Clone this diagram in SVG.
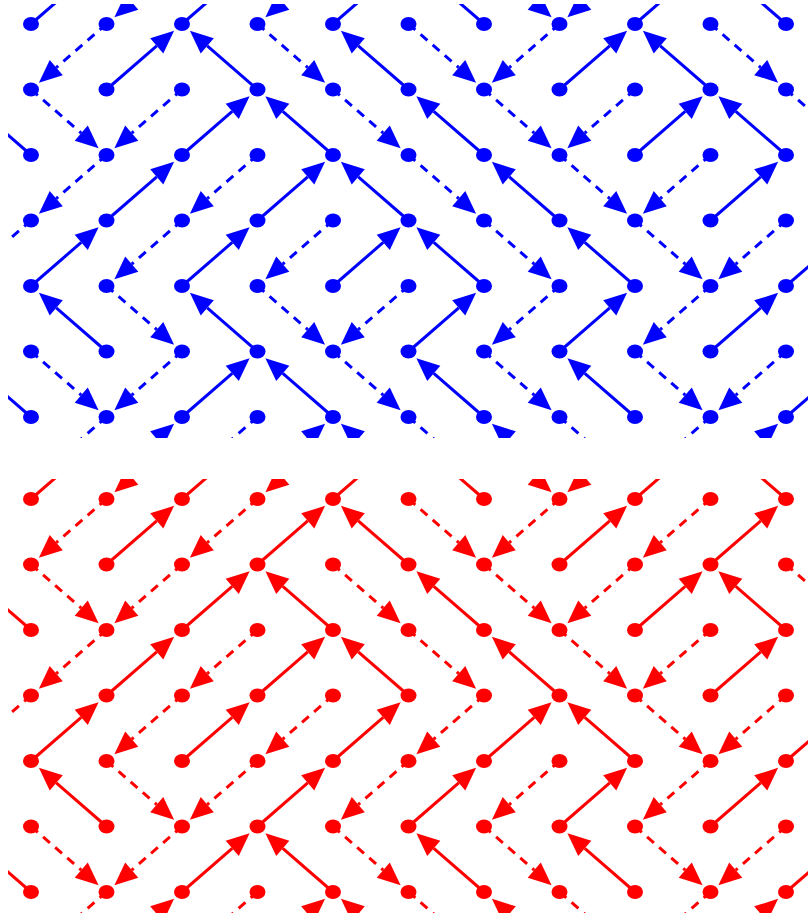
<svg xmlns="http://www.w3.org/2000/svg" width="808" height="920" viewBox="0 0 808 920">
<style>
.blue{color:#0000ff}
.red{color:#ff0000}
</style>
<defs>
<clipPath id="panel"><rect x="8" y="4" width="800" height="434"/></clipPath>
<g id="UR" transform="rotate(-40.94)"><line x1="0" y1="0" x2="66.5" y2="0" stroke="currentColor" stroke-width="3"/><path d="M89.5,0L66.5,-10L66.5,10Z" fill="currentColor"/></g>
<g id="UL" transform="rotate(-139.06)"><line x1="0" y1="0" x2="66.5" y2="0" stroke="currentColor" stroke-width="3"/><path d="M89.5,0L66.5,-10L66.5,10Z" fill="currentColor"/></g>
<g id="DR" transform="rotate(40.94)"><line x1="0" y1="0" x2="66.5" y2="0" stroke="currentColor" stroke-width="3" stroke-dasharray="9 7"/><path d="M89.5,0L66.5,-10L66.5,10Z" fill="currentColor"/></g>
<g id="DL" transform="rotate(139.06)"><line x1="0" y1="0" x2="66.5" y2="0" stroke="currentColor" stroke-width="3" stroke-dasharray="9 7"/><path d="M89.5,0L66.5,-10L66.5,10Z" fill="currentColor"/></g>
</defs>

<g id="panel-blue" class="blue">
<g id="connectors-blue" clip-path="url(#panel)">
<use href="#UR" x="31" y="24"/><use href="#DL" x="106.5" y="24"/><use href="#UR" x="182" y="24"/><use href="#DR" x="257.5" y="24"/><use href="#UR" x="333" y="24"/><use href="#DR" x="408.5" y="24"/><use href="#UL" x="484" y="24"/><use href="#DL" x="559.5" y="24"/><use href="#UR" x="635" y="24"/><use href="#DR" x="710.5" y="24"/><use href="#UL" x="786" y="24"/>
<use href="#DR" x="31" y="89.5"/><use href="#UR" x="106.5" y="89.5"/><use href="#DL" x="182" y="89.5"/><use href="#UL" x="257.5" y="89.5"/><use href="#DR" x="333" y="89.5"/><use href="#UL" x="408.5" y="89.5"/><use href="#DR" x="484" y="89.5"/><use href="#UR" x="559.5" y="89.5"/><use href="#DL" x="635" y="89.5"/><use href="#UL" x="710.5" y="89.5"/><use href="#DR" x="786" y="89.5"/>
<use href="#UL" x="31" y="155"/><use href="#DL" x="106.5" y="155"/><use href="#UR" x="182" y="155"/><use href="#DL" x="257.5" y="155"/><use href="#UL" x="333" y="155"/><use href="#DR" x="408.5" y="155"/><use href="#UL" x="484" y="155"/><use href="#DR" x="559.5" y="155"/><use href="#UR" x="635" y="155"/><use href="#DL" x="710.5" y="155"/><use href="#UL" x="786" y="155"/>
<use href="#DL" x="31" y="220.5"/><use href="#UR" x="106.5" y="220.5"/><use href="#DL" x="182" y="220.5"/><use href="#UR" x="257.5" y="220.5"/><use href="#DL" x="333" y="220.5"/><use href="#UL" x="408.5" y="220.5"/><use href="#DR" x="484" y="220.5"/><use href="#UL" x="559.5" y="220.5"/><use href="#DR" x="635" y="220.5"/><use href="#UR" x="710.5" y="220.5"/><use href="#DL" x="786" y="220.5"/>
<use href="#UR" x="31" y="286"/><use href="#DR" x="106.5" y="286"/><use href="#UR" x="182" y="286"/><use href="#DR" x="257.5" y="286"/><use href="#UR" x="333" y="286"/><use href="#DL" x="408.5" y="286"/><use href="#UL" x="484" y="286"/><use href="#DL" x="559.5" y="286"/><use href="#UL" x="635" y="286"/><use href="#DL" x="710.5" y="286"/><use href="#UR" x="786" y="286"/>
<use href="#DR" x="31" y="351.5"/><use href="#UL" x="106.5" y="351.5"/><use href="#DL" x="182" y="351.5"/><use href="#UL" x="257.5" y="351.5"/><use href="#DR" x="333" y="351.5"/><use href="#UR" x="408.5" y="351.5"/><use href="#DR" x="484" y="351.5"/><use href="#UR" x="559.5" y="351.5"/><use href="#DR" x="635" y="351.5"/><use href="#UR" x="710.5" y="351.5"/><use href="#DL" x="786" y="351.5"/>
<use href="#UL" x="31" y="417"/><use href="#DL" x="106.5" y="417"/><use href="#UR" x="182" y="417"/><use href="#DL" x="257.5" y="417"/><use href="#UL" x="333" y="417"/><use href="#DR" x="408.5" y="417"/><use href="#UL" x="484" y="417"/><use href="#DR" x="559.5" y="417"/><use href="#UL" x="635" y="417"/><use href="#DL" x="710.5" y="417"/><use href="#UR" x="786" y="417"/>
<use href="#DL" x="182" y="-41.5"/><use href="#DL" x="333" y="-41.5"/><use href="#DR" x="484" y="-41.5"/><use href="#DL" x="635" y="-41.5"/>
<use href="#UR" x="106.5" y="482.5"/><use href="#UR" x="257.5" y="482.5"/><use href="#UL" x="408.5" y="482.5"/><use href="#UL" x="559.5" y="482.5"/><use href="#UR" x="710.5" y="482.5"/>
</g>
<g id="nodes-blue" fill="currentColor">
<g id="b0-0"><ellipse cx="31" cy="24" rx="8" ry="7"/></g><g id="b1-0"><ellipse cx="106.5" cy="24" rx="8" ry="7"/></g><g id="b2-0"><ellipse cx="182" cy="24" rx="8" ry="7"/></g><g id="b3-0"><ellipse cx="257.5" cy="24" rx="8" ry="7"/></g><g id="b4-0"><ellipse cx="333" cy="24" rx="8" ry="7"/></g><g id="b5-0"><ellipse cx="408.5" cy="24" rx="8" ry="7"/></g><g id="b6-0"><ellipse cx="484" cy="24" rx="8" ry="7"/></g><g id="b7-0"><ellipse cx="559.5" cy="24" rx="8" ry="7"/></g><g id="b8-0"><ellipse cx="635" cy="24" rx="8" ry="7"/></g><g id="b9-0"><ellipse cx="710.5" cy="24" rx="8" ry="7"/></g><g id="b10-0"><ellipse cx="786" cy="24" rx="8" ry="7"/></g>
<g id="b0-1"><ellipse cx="31" cy="89.5" rx="8" ry="7"/></g><g id="b1-1"><ellipse cx="106.5" cy="89.5" rx="8" ry="7"/></g><g id="b2-1"><ellipse cx="182" cy="89.5" rx="8" ry="7"/></g><g id="b3-1"><ellipse cx="257.5" cy="89.5" rx="8" ry="7"/></g><g id="b4-1"><ellipse cx="333" cy="89.5" rx="8" ry="7"/></g><g id="b5-1"><ellipse cx="408.5" cy="89.5" rx="8" ry="7"/></g><g id="b6-1"><ellipse cx="484" cy="89.5" rx="8" ry="7"/></g><g id="b7-1"><ellipse cx="559.5" cy="89.5" rx="8" ry="7"/></g><g id="b8-1"><ellipse cx="635" cy="89.5" rx="8" ry="7"/></g><g id="b9-1"><ellipse cx="710.5" cy="89.5" rx="8" ry="7"/></g><g id="b10-1"><ellipse cx="786" cy="89.5" rx="8" ry="7"/></g>
<g id="b0-2"><ellipse cx="31" cy="155" rx="8" ry="7"/></g><g id="b1-2"><ellipse cx="106.5" cy="155" rx="8" ry="7"/></g><g id="b2-2"><ellipse cx="182" cy="155" rx="8" ry="7"/></g><g id="b3-2"><ellipse cx="257.5" cy="155" rx="8" ry="7"/></g><g id="b4-2"><ellipse cx="333" cy="155" rx="8" ry="7"/></g><g id="b5-2"><ellipse cx="408.5" cy="155" rx="8" ry="7"/></g><g id="b6-2"><ellipse cx="484" cy="155" rx="8" ry="7"/></g><g id="b7-2"><ellipse cx="559.5" cy="155" rx="8" ry="7"/></g><g id="b8-2"><ellipse cx="635" cy="155" rx="8" ry="7"/></g><g id="b9-2"><ellipse cx="710.5" cy="155" rx="8" ry="7"/></g><g id="b10-2"><ellipse cx="786" cy="155" rx="8" ry="7"/></g>
<g id="b0-3"><ellipse cx="31" cy="220.5" rx="8" ry="7"/></g><g id="b1-3"><ellipse cx="106.5" cy="220.5" rx="8" ry="7"/></g><g id="b2-3"><ellipse cx="182" cy="220.5" rx="8" ry="7"/></g><g id="b3-3"><ellipse cx="257.5" cy="220.5" rx="8" ry="7"/></g><g id="b4-3"><ellipse cx="333" cy="220.5" rx="8" ry="7"/></g><g id="b5-3"><ellipse cx="408.5" cy="220.5" rx="8" ry="7"/></g><g id="b6-3"><ellipse cx="484" cy="220.5" rx="8" ry="7"/></g><g id="b7-3"><ellipse cx="559.5" cy="220.5" rx="8" ry="7"/></g><g id="b8-3"><ellipse cx="635" cy="220.5" rx="8" ry="7"/></g><g id="b9-3"><ellipse cx="710.5" cy="220.5" rx="8" ry="7"/></g><g id="b10-3"><ellipse cx="786" cy="220.5" rx="8" ry="7"/></g>
<g id="b0-4"><ellipse cx="31" cy="286" rx="8" ry="7"/></g><g id="b1-4"><ellipse cx="106.5" cy="286" rx="8" ry="7"/></g><g id="b2-4"><ellipse cx="182" cy="286" rx="8" ry="7"/></g><g id="b3-4"><ellipse cx="257.5" cy="286" rx="8" ry="7"/></g><g id="b4-4"><ellipse cx="333" cy="286" rx="8" ry="7"/></g><g id="b5-4"><ellipse cx="408.5" cy="286" rx="8" ry="7"/></g><g id="b6-4"><ellipse cx="484" cy="286" rx="8" ry="7"/></g><g id="b7-4"><ellipse cx="559.5" cy="286" rx="8" ry="7"/></g><g id="b8-4"><ellipse cx="635" cy="286" rx="8" ry="7"/></g><g id="b9-4"><ellipse cx="710.5" cy="286" rx="8" ry="7"/></g><g id="b10-4"><ellipse cx="786" cy="286" rx="8" ry="7"/></g>
<g id="b0-5"><ellipse cx="31" cy="351.5" rx="8" ry="7"/></g><g id="b1-5"><ellipse cx="106.5" cy="351.5" rx="8" ry="7"/></g><g id="b2-5"><ellipse cx="182" cy="351.5" rx="8" ry="7"/></g><g id="b3-5"><ellipse cx="257.5" cy="351.5" rx="8" ry="7"/></g><g id="b4-5"><ellipse cx="333" cy="351.5" rx="8" ry="7"/></g><g id="b5-5"><ellipse cx="408.5" cy="351.5" rx="8" ry="7"/></g><g id="b6-5"><ellipse cx="484" cy="351.5" rx="8" ry="7"/></g><g id="b7-5"><ellipse cx="559.5" cy="351.5" rx="8" ry="7"/></g><g id="b8-5"><ellipse cx="635" cy="351.5" rx="8" ry="7"/></g><g id="b9-5"><ellipse cx="710.5" cy="351.5" rx="8" ry="7"/></g><g id="b10-5"><ellipse cx="786" cy="351.5" rx="8" ry="7"/></g>
<g id="b0-6"><ellipse cx="31" cy="417" rx="8" ry="7"/></g><g id="b1-6"><ellipse cx="106.5" cy="417" rx="8" ry="7"/></g><g id="b2-6"><ellipse cx="182" cy="417" rx="8" ry="7"/></g><g id="b3-6"><ellipse cx="257.5" cy="417" rx="8" ry="7"/></g><g id="b4-6"><ellipse cx="333" cy="417" rx="8" ry="7"/></g><g id="b5-6"><ellipse cx="408.5" cy="417" rx="8" ry="7"/></g><g id="b6-6"><ellipse cx="484" cy="417" rx="8" ry="7"/></g><g id="b7-6"><ellipse cx="559.5" cy="417" rx="8" ry="7"/></g><g id="b8-6"><ellipse cx="635" cy="417" rx="8" ry="7"/></g><g id="b9-6"><ellipse cx="710.5" cy="417" rx="8" ry="7"/></g><g id="b10-6"><ellipse cx="786" cy="417" rx="8" ry="7"/></g>
</g>
</g>

<g id="panel-red" class="red" transform="translate(0,475)">
<g id="connectors-red" clip-path="url(#panel)">
<use href="#UR" x="31" y="24"/><use href="#DL" x="106.5" y="24"/><use href="#UR" x="182" y="24"/><use href="#DL" x="257.5" y="24"/><use href="#UR" x="333" y="24"/><use href="#DR" x="408.5" y="24"/><use href="#UL" x="484" y="24"/><use href="#DL" x="559.5" y="24"/><use href="#UR" x="635" y="24"/><use href="#DL" x="710.5" y="24"/><use href="#UL" x="786" y="24"/>
<use href="#DR" x="31" y="89.5"/><use href="#UR" x="106.5" y="89.5"/><use href="#DL" x="182" y="89.5"/><use href="#UR" x="257.5" y="89.5"/><use href="#DR" x="333" y="89.5"/><use href="#UL" x="408.5" y="89.5"/><use href="#DR" x="484" y="89.5"/><use href="#UR" x="559.5" y="89.5"/><use href="#DL" x="635" y="89.5"/><use href="#UR" x="710.5" y="89.5"/><use href="#DR" x="786" y="89.5"/>
<use href="#UL" x="31" y="155"/><use href="#DL" x="106.5" y="155"/><use href="#UR" x="182" y="155"/><use href="#DL" x="257.5" y="155"/><use href="#UL" x="333" y="155"/><use href="#DR" x="408.5" y="155"/><use href="#UL" x="484" y="155"/><use href="#DR" x="559.5" y="155"/><use href="#UR" x="635" y="155"/><use href="#DL" x="710.5" y="155"/><use href="#UL" x="786" y="155"/>
<use href="#DL" x="31" y="220.5"/><use href="#UR" x="106.5" y="220.5"/><use href="#DL" x="182" y="220.5"/><use href="#UR" x="257.5" y="220.5"/><use href="#DL" x="333" y="220.5"/><use href="#UL" x="408.5" y="220.5"/><use href="#DL" x="484" y="220.5"/><use href="#UL" x="559.5" y="220.5"/><use href="#DR" x="635" y="220.5"/><use href="#UR" x="710.5" y="220.5"/><use href="#DL" x="786" y="220.5"/>
<use href="#UR" x="31" y="286"/><use href="#DR" x="106.5" y="286"/><use href="#UR" x="182" y="286"/><use href="#DL" x="257.5" y="286"/><use href="#UR" x="333" y="286"/><use href="#DL" x="408.5" y="286"/><use href="#UR" x="484" y="286"/><use href="#DL" x="559.5" y="286"/><use href="#UL" x="635" y="286"/><use href="#DL" x="710.5" y="286"/><use href="#UR" x="786" y="286"/>
<use href="#DR" x="31" y="351.5"/><use href="#UL" x="106.5" y="351.5"/><use href="#DL" x="182" y="351.5"/><use href="#UR" x="257.5" y="351.5"/><use href="#DR" x="333" y="351.5"/><use href="#UR" x="408.5" y="351.5"/><use href="#DR" x="484" y="351.5"/><use href="#UR" x="559.5" y="351.5"/><use href="#DR" x="635" y="351.5"/><use href="#UR" x="710.5" y="351.5"/><use href="#DL" x="786" y="351.5"/>
<use href="#UL" x="31" y="417"/><use href="#DL" x="106.5" y="417"/><use href="#UR" x="182" y="417"/><use href="#DL" x="257.5" y="417"/><use href="#UL" x="333" y="417"/><use href="#DR" x="408.5" y="417"/><use href="#UL" x="484" y="417"/><use href="#DR" x="559.5" y="417"/><use href="#UL" x="635" y="417"/><use href="#DL" x="710.5" y="417"/><use href="#UR" x="786" y="417"/>
<use href="#DL" x="182" y="-41.5"/><use href="#DL" x="333" y="-41.5"/><use href="#DR" x="484" y="-41.5"/><use href="#DL" x="635" y="-41.5"/>
<use href="#UR" x="106.5" y="482.5"/><use href="#UR" x="257.5" y="482.5"/><use href="#UL" x="408.5" y="482.5"/><use href="#UL" x="559.5" y="482.5"/><use href="#UR" x="710.5" y="482.5"/>
</g>
<g id="nodes-red" fill="currentColor">
<g id="r0-0"><ellipse cx="31" cy="24" rx="8" ry="7"/></g><g id="r1-0"><ellipse cx="106.5" cy="24" rx="8" ry="7"/></g><g id="r2-0"><ellipse cx="182" cy="24" rx="8" ry="7"/></g><g id="r3-0"><ellipse cx="257.5" cy="24" rx="8" ry="7"/></g><g id="r4-0"><ellipse cx="333" cy="24" rx="8" ry="7"/></g><g id="r5-0"><ellipse cx="408.5" cy="24" rx="8" ry="7"/></g><g id="r6-0"><ellipse cx="484" cy="24" rx="8" ry="7"/></g><g id="r7-0"><ellipse cx="559.5" cy="24" rx="8" ry="7"/></g><g id="r8-0"><ellipse cx="635" cy="24" rx="8" ry="7"/></g><g id="r9-0"><ellipse cx="710.5" cy="24" rx="8" ry="7"/></g><g id="r10-0"><ellipse cx="786" cy="24" rx="8" ry="7"/></g>
<g id="r0-1"><ellipse cx="31" cy="89.5" rx="8" ry="7"/></g><g id="r1-1"><ellipse cx="106.5" cy="89.5" rx="8" ry="7"/></g><g id="r2-1"><ellipse cx="182" cy="89.5" rx="8" ry="7"/></g><g id="r3-1"><ellipse cx="257.5" cy="89.5" rx="8" ry="7"/></g><g id="r4-1"><ellipse cx="333" cy="89.5" rx="8" ry="7"/></g><g id="r5-1"><ellipse cx="408.5" cy="89.5" rx="8" ry="7"/></g><g id="r6-1"><ellipse cx="484" cy="89.5" rx="8" ry="7"/></g><g id="r7-1"><ellipse cx="559.5" cy="89.5" rx="8" ry="7"/></g><g id="r8-1"><ellipse cx="635" cy="89.5" rx="8" ry="7"/></g><g id="r9-1"><ellipse cx="710.5" cy="89.5" rx="8" ry="7"/></g><g id="r10-1"><ellipse cx="786" cy="89.5" rx="8" ry="7"/></g>
<g id="r0-2"><ellipse cx="31" cy="155" rx="8" ry="7"/></g><g id="r1-2"><ellipse cx="106.5" cy="155" rx="8" ry="7"/></g><g id="r2-2"><ellipse cx="182" cy="155" rx="8" ry="7"/></g><g id="r3-2"><ellipse cx="257.5" cy="155" rx="8" ry="7"/></g><g id="r4-2"><ellipse cx="333" cy="155" rx="8" ry="7"/></g><g id="r5-2"><ellipse cx="408.5" cy="155" rx="8" ry="7"/></g><g id="r6-2"><ellipse cx="484" cy="155" rx="8" ry="7"/></g><g id="r7-2"><ellipse cx="559.5" cy="155" rx="8" ry="7"/></g><g id="r8-2"><ellipse cx="635" cy="155" rx="8" ry="7"/></g><g id="r9-2"><ellipse cx="710.5" cy="155" rx="8" ry="7"/></g><g id="r10-2"><ellipse cx="786" cy="155" rx="8" ry="7"/></g>
<g id="r0-3"><ellipse cx="31" cy="220.5" rx="8" ry="7"/></g><g id="r1-3"><ellipse cx="106.5" cy="220.5" rx="8" ry="7"/></g><g id="r2-3"><ellipse cx="182" cy="220.5" rx="8" ry="7"/></g><g id="r3-3"><ellipse cx="257.5" cy="220.5" rx="8" ry="7"/></g><g id="r4-3"><ellipse cx="333" cy="220.5" rx="8" ry="7"/></g><g id="r5-3"><ellipse cx="408.5" cy="220.5" rx="8" ry="7"/></g><g id="r6-3"><ellipse cx="484" cy="220.5" rx="8" ry="7"/></g><g id="r7-3"><ellipse cx="559.5" cy="220.5" rx="8" ry="7"/></g><g id="r8-3"><ellipse cx="635" cy="220.5" rx="8" ry="7"/></g><g id="r9-3"><ellipse cx="710.5" cy="220.5" rx="8" ry="7"/></g><g id="r10-3"><ellipse cx="786" cy="220.5" rx="8" ry="7"/></g>
<g id="r0-4"><ellipse cx="31" cy="286" rx="8" ry="7"/></g><g id="r1-4"><ellipse cx="106.5" cy="286" rx="8" ry="7"/></g><g id="r2-4"><ellipse cx="182" cy="286" rx="8" ry="7"/></g><g id="r3-4"><ellipse cx="257.5" cy="286" rx="8" ry="7"/></g><g id="r4-4"><ellipse cx="333" cy="286" rx="8" ry="7"/></g><g id="r5-4"><ellipse cx="408.5" cy="286" rx="8" ry="7"/></g><g id="r6-4"><ellipse cx="484" cy="286" rx="8" ry="7"/></g><g id="r7-4"><ellipse cx="559.5" cy="286" rx="8" ry="7"/></g><g id="r8-4"><ellipse cx="635" cy="286" rx="8" ry="7"/></g><g id="r9-4"><ellipse cx="710.5" cy="286" rx="8" ry="7"/></g><g id="r10-4"><ellipse cx="786" cy="286" rx="8" ry="7"/></g>
<g id="r0-5"><ellipse cx="31" cy="351.5" rx="8" ry="7"/></g><g id="r1-5"><ellipse cx="106.5" cy="351.5" rx="8" ry="7"/></g><g id="r2-5"><ellipse cx="182" cy="351.5" rx="8" ry="7"/></g><g id="r3-5"><ellipse cx="257.5" cy="351.5" rx="8" ry="7"/></g><g id="r4-5"><ellipse cx="333" cy="351.5" rx="8" ry="7"/></g><g id="r5-5"><ellipse cx="408.5" cy="351.5" rx="8" ry="7"/></g><g id="r6-5"><ellipse cx="484" cy="351.5" rx="8" ry="7"/></g><g id="r7-5"><ellipse cx="559.5" cy="351.5" rx="8" ry="7"/></g><g id="r8-5"><ellipse cx="635" cy="351.5" rx="8" ry="7"/></g><g id="r9-5"><ellipse cx="710.5" cy="351.5" rx="8" ry="7"/></g><g id="r10-5"><ellipse cx="786" cy="351.5" rx="8" ry="7"/></g>
<g id="r0-6"><ellipse cx="31" cy="417" rx="8" ry="7"/></g><g id="r1-6"><ellipse cx="106.5" cy="417" rx="8" ry="7"/></g><g id="r2-6"><ellipse cx="182" cy="417" rx="8" ry="7"/></g><g id="r3-6"><ellipse cx="257.5" cy="417" rx="8" ry="7"/></g><g id="r4-6"><ellipse cx="333" cy="417" rx="8" ry="7"/></g><g id="r5-6"><ellipse cx="408.5" cy="417" rx="8" ry="7"/></g><g id="r6-6"><ellipse cx="484" cy="417" rx="8" ry="7"/></g><g id="r7-6"><ellipse cx="559.5" cy="417" rx="8" ry="7"/></g><g id="r8-6"><ellipse cx="635" cy="417" rx="8" ry="7"/></g><g id="r9-6"><ellipse cx="710.5" cy="417" rx="8" ry="7"/></g><g id="r10-6"><ellipse cx="786" cy="417" rx="8" ry="7"/></g>
</g>
</g>
</svg>
